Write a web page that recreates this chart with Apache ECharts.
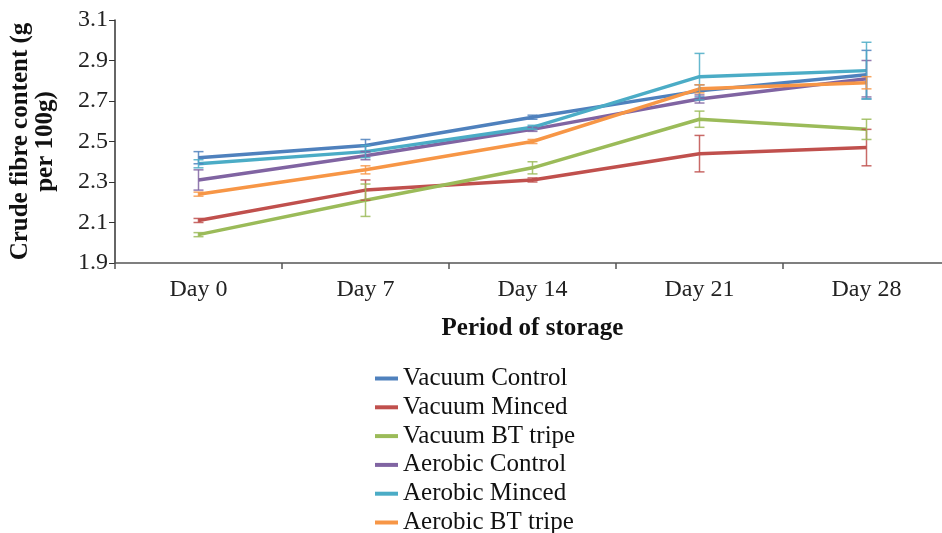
<!DOCTYPE html>
<html>
<head>
<meta charset="utf-8">
<script src="https://cdn.jsdelivr.net/npm/echarts@6/dist/echarts.min.js"></script>
<style>
html,body{margin:0;padding:0;background:#fff;}
#chart{width:942px;height:533px;}
</style>
</head>
<body>
<div id="chart"></div>
<script>
const categories = ['Day 0', 'Day 7', 'Day 14', 'Day 21', 'Day 28'];
const seriesNames = ['Vacuum Control', 'Vacuum Minced', 'Vacuum BT tripe', 'Aerobic Control', 'Aerobic Minced', 'Aerobic BT tripe'];
const vacuumControl   = [2.42, 2.48, 2.62, 2.75, 2.83];
const vacuumMinced    = [2.11, 2.26, 2.31, 2.44, 2.47];
const vacuumBTtripe   = [2.04, 2.21, 2.37, 2.61, 2.56];
const aerobicControl  = [2.31, 2.43, 2.56, 2.71, 2.81];
const aerobicMinced   = [2.39, 2.45, 2.57, 2.82, 2.85];
const aerobicBTtripe  = [2.24, 2.36, 2.50, 2.76, 2.79];
const vacuumControlErr  = [0.03, 0.03, 0.01, 0.03, 0.12];
const vacuumMincedErr   = [0.01, 0.05, 0.01, 0.09, 0.09];
const vacuumBTtripeErr  = [0.01, 0.08, 0.03, 0.04, 0.05];
const aerobicControlErr = [0.05, 0.02, 0.01, 0.02, 0.09];
const aerobicMincedErr  = [0.02, 0.03, 0.01, 0.115, 0.14];
const aerobicBTtripeErr = [0.01, 0.02, 0.01, 0.02, 0.03];
const yTicks = ['1.9', '2.1', '2.3', '2.5', '2.7', '2.9', '3.1'];

const values = [vacuumControl, vacuumMinced, vacuumBTtripe, aerobicControl, aerobicMinced, aerobicBTtripe];
const errors = [vacuumControlErr, vacuumMincedErr, vacuumBTtripeErr, aerobicControlErr, aerobicMincedErr, aerobicBTtripeErr];
const colors = ['#4F81BD', '#C0504D', '#9BBB59', '#8064A2', '#4BACC6', '#F79646'];
const font = '"Liberation Serif", "Times New Roman", serif';

const chart = echarts.init(document.getElementById('chart'));

const series = [];
values.forEach((vals, s) => {
  series.push({
    name: seriesNames[s] + ' error',
    type: 'custom',
    silent: true,
    z: 3,
    data: vals.map((v, i) => [i, v, errors[s][i]]),
    encode: { x: 0, y: 1 },
    renderItem: function (params, api) {
      const x = api.value(0), v = api.value(1), e = api.value(2);
      const top = api.coord([x, v + e]);
      const bot = api.coord([x, v - e]);
      const hw = 5;
      const style = { stroke: colors[s], lineWidth: 1.5, opacity: 0.85 };
      return {
        type: 'group',
        children: [
          { type: 'line', shape: { x1: top[0], y1: top[1], x2: bot[0], y2: bot[1] }, style: style },
          { type: 'line', shape: { x1: top[0] - hw, y1: top[1], x2: top[0] + hw, y2: top[1] }, style: style },
          { type: 'line', shape: { x1: bot[0] - hw, y1: bot[1], x2: bot[0] + hw, y2: bot[1] }, style: style }
        ]
      };
    }
  });
  series.push({
    name: seriesNames[s],
    type: 'line',
    z: 2,
    data: vals,
    showSymbol: false,
    symbol: 'none',
    color: colors[s],
    lineStyle: { width: 3.5, color: colors[s] }
  });
});

chart.setOption({
  animation: false,
  backgroundColor: '#ffffff',
  textStyle: { fontFamily: font },
  grid: { left: 115, right: -8, top: 20, bottom: 270, containLabel: false, outerBoundsMode: 'none' },
  xAxis: {
    type: 'category',
    data: categories,
    boundaryGap: true,
    axisLine: { show: true, lineStyle: { color: '#555', width: 1.5 } },
    axisTick: { show: true, length: 6, lineStyle: { color: '#555', width: 1.5 } },
    axisLabel: { color: '#222', fontSize: 24, fontFamily: font, margin: 15 },
    name: 'Period of storage',
    nameLocation: 'middle',
    nameGap: 53,
    nameTextStyle: { color: '#111', fontSize: 25, fontWeight: 'bold', fontFamily: font }
  },
  yAxis: {
    type: 'value',
    min: 1.9,
    max: 3.1,
    interval: 0.2,
    splitLine: { show: false },
    axisLine: { show: true, lineStyle: { color: '#333', width: 1.5 } },
    axisTick: { show: true, length: 6, lineStyle: { color: '#333', width: 1 } },
    axisLabel: {
      color: '#222', fontSize: 24, fontFamily: font, margin: 7,
      formatter: function (v) {
        const idx = Math.round((v - 1.9) / 0.2);
        return yTicks[idx] !== undefined ? yTicks[idx] : v.toFixed(1);
      }
    },
    name: 'Crude fibre content (g\nper 100g)',
    nameLocation: 'middle',
    nameGap: 57,
    nameRotate: 90,
    nameTextStyle: { color: '#111', fontSize: 25, fontWeight: 'bold', fontFamily: font, lineHeight: 25 }
  },
  legend: {
    orient: 'vertical',
    left: 375,
    top: 366,
    height: 200,
    padding: 0,
    itemWidth: 23,
    itemHeight: 4,
    itemGap: 3.8,
    icon: 'rect',
    data: seriesNames,
    textStyle: { color: '#111', fontSize: 25, fontFamily: font, padding: [0, 0, 0, 0] }
  },
  series: series
});
</script>
</body>
</html>
